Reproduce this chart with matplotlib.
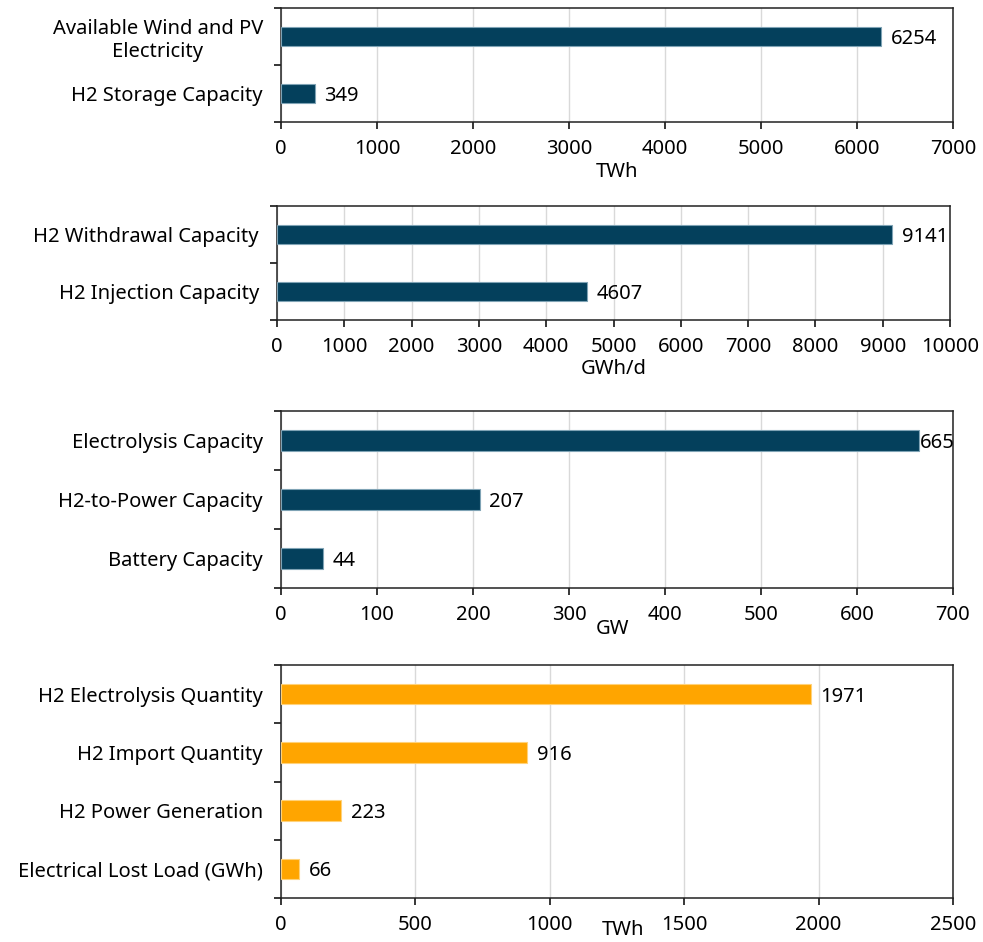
import numpy as np
import matplotlib
matplotlib.use('Agg')
import matplotlib.pyplot as plt

plt.rcParams['font.family'] = ['Noto Sans', 'DejaVu Sans']
plt.rcParams['font.size'] = 14.5

# Data

energy_labels = ['Available Wind and PV\nElectricity', 'H2 Storage Capacity']
energy_values = [6254, 349]

rate_labels = ['H2 Withdrawal Capacity', 'H2 Injection Capacity']
rate_values = [9141, 4607]

power_labels = ['Electrolysis Capacity', 'H2-to-Power Capacity', 'Battery Capacity']
power_values = [665, 207, 44]

quantity_labels = ['H2 Electrolysis Quantity', 'H2 Import Quantity',
                   'H2 Power Generation', 'Electrical Lost Load (GWh)']
quantity_values = [1971, 916, 223, 66]

# Layout (pixels in a 983 x 942 figure)

W, H = 983, 942
DARK = '#04405c'
ORANGE = '#ffa500'

fig = plt.figure(figsize=(W / 100, H / 100), dpi=100)


def make_axes(left, right, top, bottom):
    return fig.add_axes([left / W, 1 - bottom / H, (right - left) / W, (bottom - top) / H])


def bar_panel(ax, labels, values, color, edge, xmax, step, unit, label_pos):
    n = len(values)
    y = np.arange(n)
    ax.barh(y, values, height=0.35, color=color, edgecolor=edge, linewidth=0.8, zorder=3)
    ax.set_ylim(n - 0.5, -0.5)
    ax.set_xlim(0, xmax)
    ax.set_xticks(np.arange(0, xmax + 1, step))
    ax.grid(True, axis='x', color='#d9d9d9', linewidth=1.0, zorder=0)

    # boundary ticks (major) without labels, category labels on minor ticks
    ax.set_yticks(np.arange(n + 1) - 0.5)
    ax.set_yticklabels([])
    ax.set_yticks(y, minor=True)
    ax.set_yticklabels(labels, minor=True)
    for t in ax.get_yticklabels(minor=True):
        t.set_multialignment('center')
    ax.tick_params(axis='y', which='major', length=5, width=1.1, direction='out')
    ax.tick_params(axis='y', which='minor', length=0, pad=13)
    ax.tick_params(axis='x', length=5, width=1.1, pad=7)

    for s in ax.spines.values():
        s.set_linewidth(1.1)
        s.set_color('#222222')

    # value labels
    for yi, v in zip(y, values):
        frac = v / xmax
        dx = 7 if frac < 0.93 else 0
        ax.annotate(str(v), (v, yi), xytext=(dx, 0), textcoords='offset points',
                    va='center_baseline', ha='left', zorder=4)

    ax.set_xlabel(unit)
    ax.xaxis.set_label_coords(*label_pos)


ax1 = make_axes(281, 953, 8, 122)
bar_panel(ax1, energy_labels, energy_values, DARK, '#7fa3b5', 7000, 1000, 'TWh', (0.5, -0.35))

ax2 = make_axes(277, 950, 206, 320)
bar_panel(ax2, rate_labels, rate_values, DARK, '#7fa3b5', 10000, 1000, 'GWh/d', (0.5, -0.34))

ax3 = make_axes(281, 953, 411, 588)
bar_panel(ax3, power_labels, power_values, DARK, '#7fa3b5', 700, 100, 'GW', (0.494, -0.175))

ax4 = make_axes(281, 953, 665, 898)
bar_panel(ax4, quantity_labels, quantity_values, ORANGE, '#ffd27a', 2500, 500, 'TWh', (0.509, -0.095))

plt.savefig('out.png', dpi=100)
